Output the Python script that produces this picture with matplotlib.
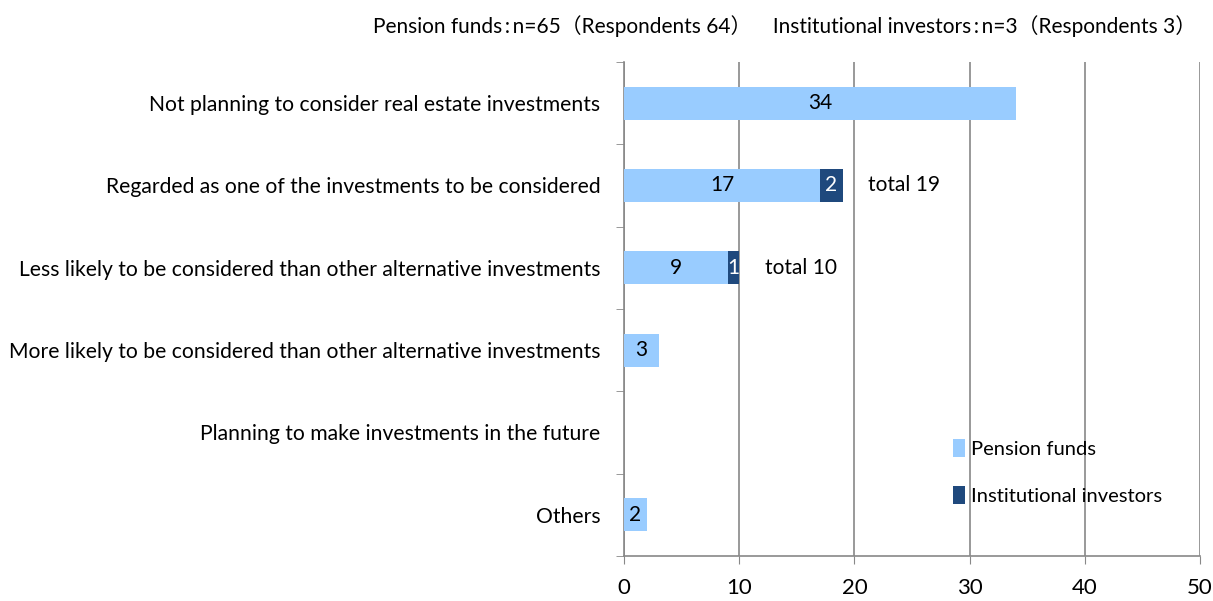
import matplotlib
matplotlib.use("Agg")
import matplotlib.pyplot as plt
import numpy as np

plt.rcParams['font.family'] = ['Lato', 'DejaVu Sans']

categories = [
    "Not planning to consider real estate investments",
    "Regarded as one of the investments to be considered",
    "Less likely to be considered than other alternative investments",
    "More likely to be considered than other alternative investments",
    "Planning to make investments in the future",
    "Others",
]
pension = [34, 17, 9, 3, 0, 2]
institutional = [0, 2, 1, 0, 0, 0]
totals_text = ["", "total 19", "total 10", "", "", ""]
xticks = [0, 10, 20, 30, 40, 50]

light = "#99CCFF"
dark = "#1F497D"

fig = plt.figure(figsize=(12.13, 6.01), dpi=100)
ax = fig.add_axes([624/1213, 1-556/601, (1200-624)/1213, (556-62)/601])

y = np.arange(len(categories))
h = 0.4
ax.barh(y, pension, height=h, color=light, label="Pension funds", zorder=3)
ax.barh(y, institutional, left=pension, height=h, color=dark, label="Institutional investors", zorder=3)

for i in range(len(categories)):
    if pension[i] > 0:
        ax.text(pension[i]/2, y[i], str(pension[i]), ha='center', va='center', fontsize=15, color='black', zorder=4)
    if institutional[i] > 0:
        ax.text(pension[i] + institutional[i]/2, y[i], str(institutional[i]), ha='center', va='center', fontsize=15, color='white', zorder=4)
    if totals_text[i]:
        ax.text(pension[i] + institutional[i] + 2.2, y[i], totals_text[i], ha='left', va='center', fontsize=15, zorder=4)

ax.set_ylim(len(categories)-0.5, -0.5)
ax.set_xlim(0, 50)
ax.set_xticks(xticks)
ax.set_xticklabels([str(t) for t in xticks], fontsize=16)
ax.set_yticks(y)
ax.set_yticklabels(categories, fontsize=15.2)
ax.set_yticks(np.arange(-0.5, len(categories), 1), minor=True)
ax.tick_params(axis='y', which='major', length=0, pad=17)
ax.tick_params(axis='y', which='minor', length=6, color='#888888', direction='out')
ax.tick_params(axis='x', length=6, color='#888888', direction='out', pad=10)

ax.xaxis.grid(True, color='#888888', linewidth=1.2, zorder=0)
for s in ['top', 'right']:
    ax.spines[s].set_visible(False)
for s in ['left', 'bottom']:
    ax.spines[s].set_color('#888888')
    ax.spines[s].set_linewidth(1.2)

ax.legend(loc='upper left', bbox_to_anchor=(0.546, 0.266), frameon=False, fontsize=14.5,
          handlelength=0.6, handleheight=1.0, handletextpad=0.3, labelspacing=1.4,
          borderpad=0.2)

fig.text(785/1213, 1-26/601, "Pension funds\u2009:\u2009n=65\uff08Respondents 64\uff09    Institutional investors\u2009:\u2009n=3\uff08Respondents 3\uff09",
         ha='center', va='center', fontsize=15,
         family=['Lato', 'Noto Sans CJK JP', 'DejaVu Sans'])

fig.savefig("out.png", dpi=100)
